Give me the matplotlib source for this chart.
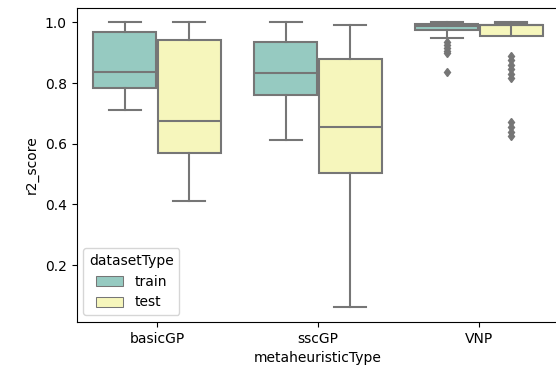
import colorsys
import matplotlib
matplotlib.use("Agg")
import matplotlib.pyplot as plt
import matplotlib.colors as mcolors

# values
categories = ['basicGP', 'sscGP', 'VNP']
hues = ['train', 'test']

whislo = {'train': [0.711, 0.613, 0.947], 'test': [0.413, 0.062, 0.999]}
q1 = {'train': [0.784, 0.761, 0.973], 'test': [0.570, 0.505, 0.956]}
med = {'train': [0.836, 0.833, 0.987], 'test': [0.675, 0.656, 0.990]}
q3 = {'train': [0.967, 0.934, 0.994], 'test': [0.941, 0.879, 0.992]}
whishi = {'train': [1.0, 1.0, 1.0], 'test': [1.0, 0.99, 1.0]}
fliers = {
    'train': [[], [], [0.935, 0.925, 0.915, 0.905, 0.898, 0.836]],
    'test': [[], [], [0.89, 0.875, 0.86, 0.845, 0.83, 0.815,
                      0.67, 0.655, 0.64, 0.625]],
}


def desaturate(c, prop):
    h, l, s = colorsys.rgb_to_hls(*mcolors.to_rgb(c))
    return colorsys.hls_to_rgb(h, l, s * prop)


palette = [desaturate(c, 0.75) for c in ['#8dd3c7', '#ffffb3']]
gray = '#767676'

fig = plt.figure(figsize=(5.56, 3.71), dpi=100)
ax = fig.add_axes([76.5 / 556, 49 / 371, 483 / 556, 314 / 371])

offsets = [-0.2, 0.2]
for j, hue in enumerate(hues):
    stats = []
    for i, cat in enumerate(categories):
        stats.append(dict(med=med[hue][i], q1=q1[hue][i], q3=q3[hue][i],
                          whislo=whislo[hue][i], whishi=whishi[hue][i],
                          fliers=fliers[hue][i], label=cat))
    positions = [i + offsets[j] for i in range(len(categories))]
    ax.bxp(stats, positions=positions, widths=0.392, patch_artist=True,
           boxprops=dict(facecolor=palette[j], edgecolor=gray, linewidth=1.5),
           whiskerprops=dict(color=gray, linewidth=1.5),
           capprops=dict(color=gray, linewidth=1.5),
           medianprops=dict(color=gray, linewidth=1.5),
           flierprops=dict(marker='d', markerfacecolor=gray,
                           markeredgecolor=gray, markersize=4.5))

ax.set_xlim(-0.5, 2.5)
ax.set_xticks(range(len(categories)))
ax.set_xticklabels(categories)
ax.set_ylim(0.013, 1.047)
ax.set_yticks([0.2, 0.4, 0.6, 0.8, 1.0])
ax.set_xlabel('metaheuristicType')
ax.set_ylabel('r2_score')
# the right edge of the axes lies outside the cropped picture
ax.spines['right'].set_visible(False)

handles = [plt.Rectangle((0, 0), 0, 0, linewidth=0.75, edgecolor=gray,
                         facecolor=palette[j], label=hue)
           for j, hue in enumerate(hues)]
ax.legend(handles=handles, loc='lower left', title='datasetType')

fig.savefig('out.png', dpi=100)
